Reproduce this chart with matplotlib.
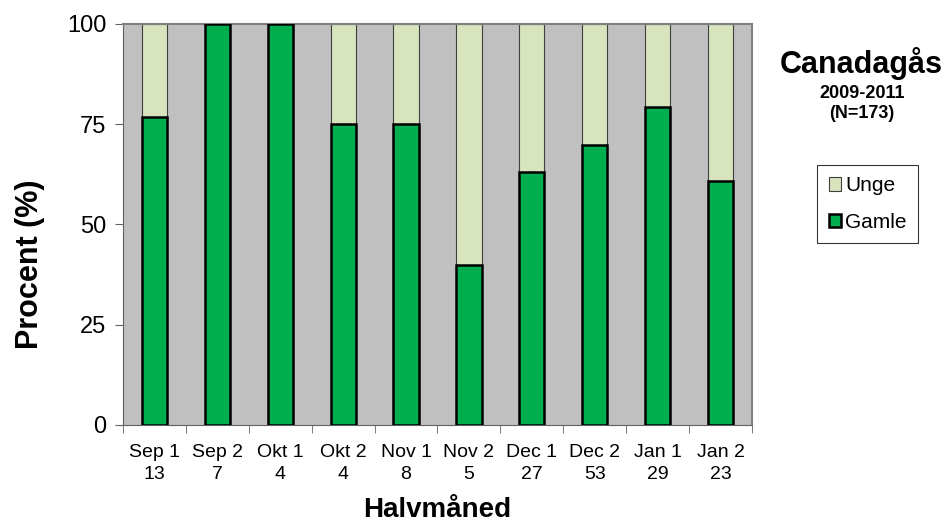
import matplotlib.pyplot as plt
import numpy as np

plt.rcParams["font.family"] = ["Liberation Sans", "DejaVu Sans"]

periods = ["Sep 1", "Sep 2", "Okt 1", "Okt 2", "Nov 1", "Nov 2", "Dec 1", "Dec 2", "Jan 1", "Jan 2"]
counts = [13, 7, 4, 4, 8, 5, 27, 53, 29, 23]
gamle = [76.9, 100, 100, 75, 75, 40, 63, 69.8, 79.3, 60.9]
unge = [100 - g for g in gamle]

fig = plt.figure(figsize=(9.49, 5.25), dpi=100)
ax = fig.add_axes([0.1296, 0.1905, 0.6628, 0.7638])
ax.set_facecolor("#C0C0C0")

x = np.arange(len(periods))
ax.bar(x, gamle, width=0.4, color="#00AD4F", edgecolor="black", linewidth=1.8, label="Gamle", zorder=3)
ax.bar(x, unge, width=0.4, bottom=gamle, color="#D7E4BD", edgecolor="#404040", linewidth=0.8,
       label="Unge", zorder=2)

ax.set_xlim(-0.5, len(periods) - 0.5)
ax.set_ylim(0, 100)
ax.set_yticks([0, 25, 50, 75, 100])
ax.set_xticks(x)
ax.set_xticklabels([f"{p}\n{n}" for p, n in zip(periods, counts)], fontsize=14, linespacing=1.35)
ax.tick_params(axis="x", length=0, pad=14)
ax.set_xticks(np.arange(-0.5, len(periods)), minor=True)
ax.tick_params(axis="x", which="minor", length=6, color="#606060", direction="out")
ax.tick_params(axis="y", labelsize=17, length=6, color="#606060", direction="out", pad=6)

for side in ["left", "bottom"]:
    ax.spines[side].set_color("#606060")
for side in ["top", "right"]:
    ax.spines[side].set_color("#808080")
    ax.spines[side].set_linewidth(1.5)

ylab = ax.set_ylabel("Procent (%)", fontsize=22, fontweight="bold")
ylab.set_va("center")
ax.yaxis.set_label_coords(-0.148, 0.40)
xlab = ax.set_xlabel("Halvmåned", fontsize=20, fontweight="bold")
xlab.set_va("center")
ax.xaxis.set_label_coords(0.5, -0.212)

fig.text(0.908, 0.88, "Canadagås", ha="center", va="center", fontsize=22, fontweight="bold")
fig.text(0.908, 0.821, "2009-2011", ha="center", va="center", fontsize=13, fontweight="bold")
fig.text(0.908, 0.784, "(N=173)", ha="center", va="center", fontsize=13, fontweight="bold")

handles, labels = ax.get_legend_handles_labels()
leg = fig.legend(handles[::-1], labels[::-1], loc="upper left", bbox_to_anchor=(0.861, 0.686),
                 fontsize=15, frameon=True, fancybox=False, edgecolor="black",
                 handlelength=0.6, handleheight=0.6, handletextpad=0.2, labelspacing=0.85,
                 borderpad=0.55, borderaxespad=0)
leg.get_frame().set_linewidth(0.8)

fig.savefig("out.png", dpi=100)
